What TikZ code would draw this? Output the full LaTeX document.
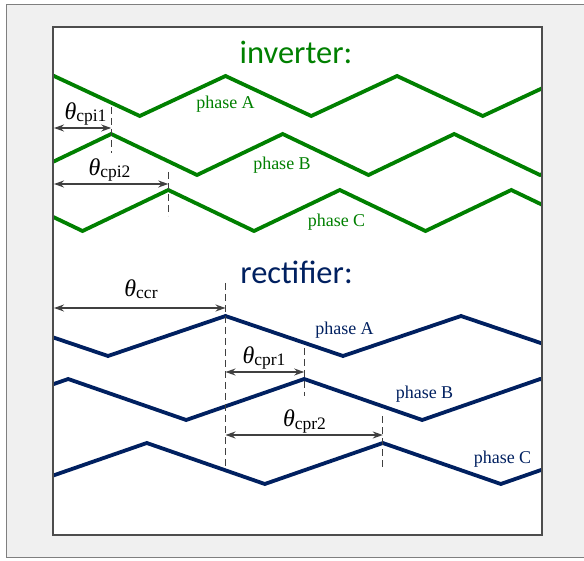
\documentclass[tikz,border=0pt]{standalone}
\usepackage{fontspec}
\setmainfont{Liberation Serif}
\newfontfamily\titlefont{Carlito}
\usetikzlibrary{arrows.meta}
\definecolor{invgreen}{HTML}{008000}
\definecolor{recblue}{HTML}{002060}
\definecolor{dimgray}{HTML}{404040}
\definecolor{panelgray}{HTML}{F0F0F0}
\definecolor{framegray}{HTML}{7F7F7F}
\definecolor{boxgray}{HTML}{4D4D4D}
\newcommand{\shiftlab}[1]{{\fontsize{24}{24}\selectfont\itshape θ}{\fontsize{17.5}{18}\selectfont\raisebox{-2pt}{#1}}}

\begin{document}
\begin{tikzpicture}[x=1pt,y=-1pt,
  wave/.style={line width=3.8pt,line join=miter},
  dimline/.style={dimgray,line width=1.3pt,{Stealth[length=10pt,width=7pt]}-{Stealth[length=10pt,width=7pt]}},
  peakline/.style={dimgray,line width=1.2pt,dash pattern=on 7pt off 4pt},
  phaselab/.style={anchor=base,inner sep=0pt,font=\fontsize{18}{18}\selectfont},
  shiftnode/.style={anchor=base,inner sep=0pt,text=black},
  titlelab/.style={anchor=base,inner sep=0pt,font=\titlefont\fontsize{32.5}{32.5}\selectfont}]
	\useasboundingbox (0,0) rectangle (584,561);
	\clip (0,0) rectangle (584,561);
	\draw[fill=panelgray,draw=framegray,line width=1pt] (6.5,4.5) rectangle (620,557.5);
	\fill[white] (53,27.5) rectangle (541.5,535);
	
	% waveforms
	\begin{scope}
		\clip (53,27.5) rectangle (541.5,535);
		\draw[wave,invgreen] (-31.75,116)--(54,76)--(139.75,116)--(225.5,76)--(311.25,116)--(397,76)--(482.75,116)--(568.5,76);
		\draw[wave,invgreen] (25.5,175)--(111.2,134)--(197,175)--(282.7,134)--(368.5,175)--(454.2,134)--(540,175)--(625.7,134);
		\draw[wave,invgreen] (-3.2,190)--(82.5,231)--(168.3,190)--(254,231)--(339.8,190)--(425.5,231)--(511.3,190)--(597,231);
		\draw[wave,recblue] (-10,316)--(108,356)--(225.5,316)--(343,356)--(461,316)--(579,356);
		\draw[wave,recblue] (-49.8,420)--(68.2,379)--(186.2,420)--(304.2,379)--(422.2,420)--(540.2,379)--(658.2,420);
		\draw[wave,recblue] (28.8,484)--(146.8,443)--(264.8,484)--(382.8,443)--(500.8,484)--(618.8,443);
	\end{scope}
	
	% phase shifts
	\coordinate (i1t) at (111.2,107);
	\coordinate (i1b) at (111.2,153);
	\coordinate (i1o) at (54,128);
	\coordinate (i2t) at (168.3,172);
	\coordinate (i2b) at (168.3,216);
	\coordinate (i2o) at (54,184);
	\coordinate (r0t) at (225.5,283);
	\coordinate (r0b) at (225.5,466);
	\coordinate (r0o) at (54,308);
	\coordinate (r1t) at (304.2,348);
	\coordinate (r1b) at (304.2,396);
	\coordinate (r2t) at (382.8,416);
	\coordinate (r2b) at (382.8,470);
	
	\draw[peakline] (i1t)--(i1b);
	\draw[peakline] (i2t)--(i2b);
	\draw[peakline] (r0t)--(r0b);
	\draw[peakline] (r1t)--(r1b);
	\draw[peakline] (r2t)--(r2b);
	
	\draw[dimline] (i1o)--(i1o -| i1t);
	\draw[dimline] (i2o)--(i2o -| i2t);
	\draw[dimline] (r0o)--(r0o -| r0t);
	\draw[dimline] (r0t |- 0,372)--(r1t |- 0,372);
	\draw[dimline] (r0t |- 0,435)--(r2t |- 0,435);
	
	\node[shiftnode] (li1) at (85.5,120) {\shiftlab{cpi1}};
	\node[shiftnode] (li2) at (109.5,176) {\shiftlab{cpi2}};
	\node[shiftnode] (lr0) at (141,297) {\shiftlab{ccr}};
	\node[shiftnode] (lr1) at (264,363) {\shiftlab{cpr1}};
	\node[shiftnode] (lr2) at (304.5,427) {\shiftlab{cpr2}};
	
	% titles and phase names
	\node[titlelab,invgreen] (tinv) at (296,64) {inverter:};
	\node[titlelab,recblue] (trec) at (296.5,284) {rectifier:};
	\node[phaselab,invgreen] (ia) at (225.5,109) {phase A};
	\node[phaselab,invgreen] (ib) at (282,170) {phase B};
	\node[phaselab,invgreen] (ic) at (336.5,226.7) {phase C};
	\node[phaselab,recblue] (ra) at (344.5,335) {phase A};
	\node[phaselab,recblue] (rb) at (424.5,399) {phase B};
	\node[phaselab,recblue] (rc) at (502.5,463) {phase C};
	
	\draw[boxgray,line width=2pt] (53,27.5) rectangle (541.5,535);
\end{tikzpicture}
\end{document}
